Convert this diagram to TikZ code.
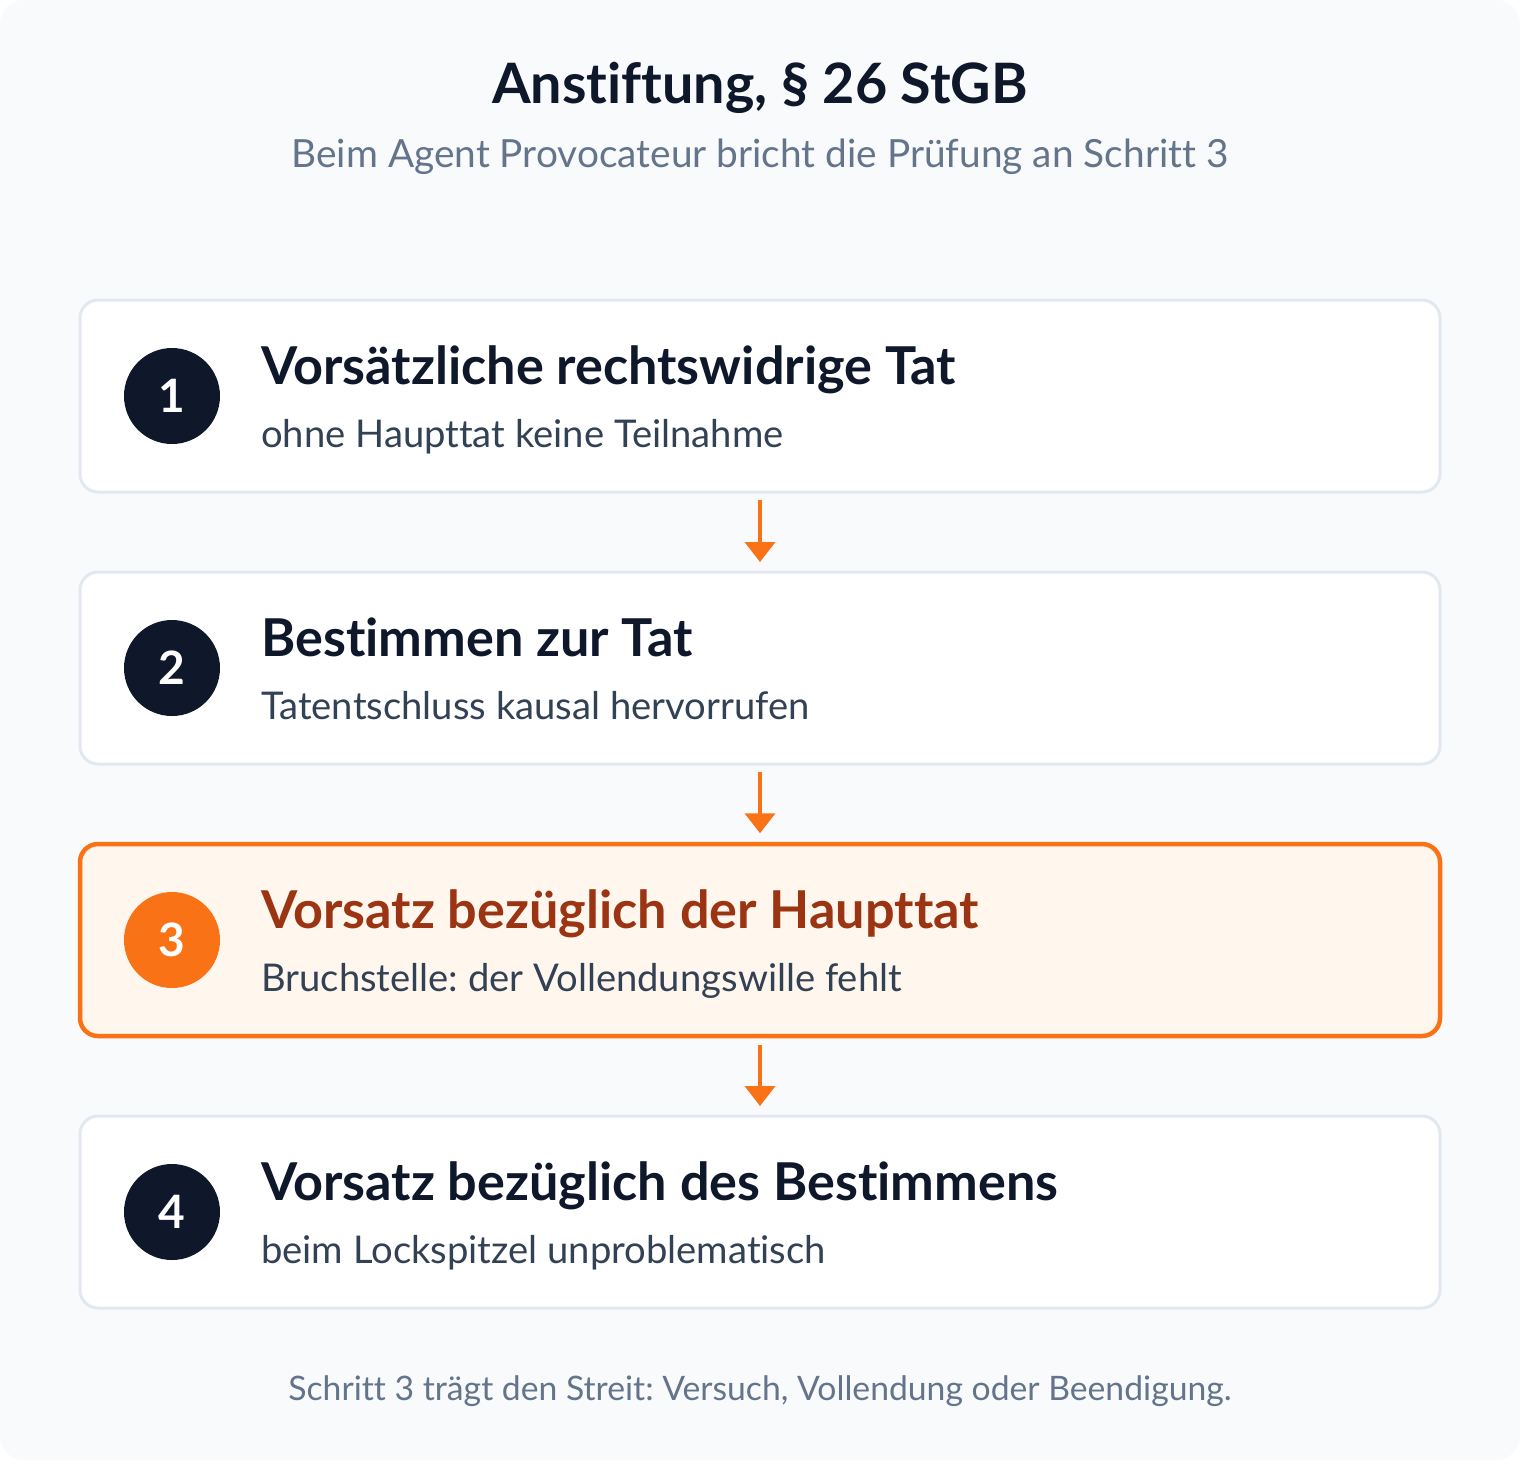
\documentclass[tikz,border=0pt]{standalone}
\usepackage{fontspec}
\setmainfont{Lato}[Ligatures=NoCommon]
\usetikzlibrary{arrows.meta}
\definecolor{navy}{HTML}{0F172A}
\definecolor{slate}{HTML}{64748B}
\definecolor{bodytext}{HTML}{334155}
\definecolor{edge}{HTML}{E2E8F0}
\definecolor{paper}{HTML}{F8FAFC}
\definecolor{accent}{HTML}{F97316}
\definecolor{accentdark}{HTML}{9A3412}
\definecolor{accentfill}{HTML}{FFF7ED}
\newcommand{\fs}[1]{\fontsize{#1}{#1}\selectfont}
\frenchspacing

\begin{document}
\begin{tikzpicture}[x=1pt,y=-1pt,
   stepbox/.style={draw=edge, fill=white, line width=3pt, rounded corners=18pt,
      minimum width=1360pt, minimum height=192pt, inner sep=0pt},
   keybox/.style={stepbox, draw=accent, fill=accentfill, line width=4.5pt},
   badge/.style={circle, fill=navy, minimum size=96pt, inner sep=0pt,
      text=white, font=\bfseries\fs{46}},
   head/.style={anchor=base west, inner sep=0pt, text=navy, font=\bfseries\fs{52.2}},
   note/.style={anchor=base west, inner sep=0pt, text=bodytext, font=\fs{38.2}},
   link/.style={draw=accent, line width=4pt, -{Triangle[width=30pt,length=20pt]},
      shorten <=6.5pt, shorten >=8.5pt}]
   \fill[white] (0,0) rectangle (1520,1460);
   \fill[paper, rounded corners=24pt] (0,0) rectangle (1520,1460);
   \useasboundingbox (0,0) rectangle (1520,1460);

   \node[anchor=base, inner sep=0pt, text=navy, font=\bfseries\fs{55.7}] (title) at (760,103)
      {Anstiftung, § 26 StGB};
   \node[anchor=base, inner sep=0pt, text=slate, font=\fs{38.8}] (subtitle) at (760,167)
      {Beim Agent Provocateur bricht die Prüfung an Schritt 3};

   % the four steps
   \node[stepbox] (s1) at (760,396) {};
   \node[badge] (n1) at (172,396) {1};
   \node[head] (h1) at (261,384) {Vorsätzliche rechtswidrige Tat};
   \node[note] (t1) at (261,447) {ohne Haupttat keine Teilnahme};

   \node[stepbox] (s2) at (760,668) {};
   \node[badge] (n2) at (172,668) {2};
   \node[head] (h2) at (261,656) {Bestimmen zur Tat};
   \node[note] (t2) at (261,719) {Tatentschluss kausal hervorrufen};

   \node[keybox] (s3) at (760,940) {};
   \node[badge, fill=accent] (n3) at (172,940) {3};
   \node[head, text=accentdark] (h3) at (261,928) {Vorsatz bezüglich der Haupttat};
   \node[note] (t3) at (261,991) {Bruchstelle: der Vollendungswille fehlt};

   \node[stepbox] (s4) at (760,1212) {};
   \node[badge] (n4) at (172,1212) {4};
   \node[head] (h4) at (261,1200) {Vorsatz bezüglich des Bestimmens};
   \node[note] (t4) at (261,1263) {beim Lockspitzel unproblematisch};

   \draw[link] (s1) -- (s2);
   \draw[link] (s2) -- (s3);
   \draw[link] (s3) -- (s4);

   \node[anchor=base, inner sep=0pt, text=slate, font=\fs{33.7}] (footer) at (760,1400)
      {Schritt 3 trägt den Streit: Versuch, Vollendung oder Beendigung.};
\end{tikzpicture}
\end{document}
